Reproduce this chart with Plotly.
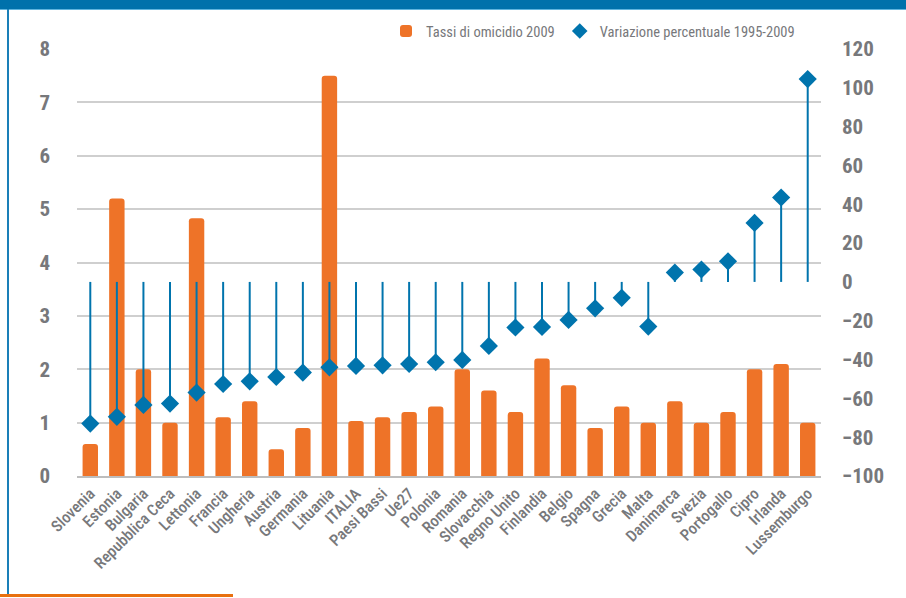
#!/usr/bin/env python3
"""Tassi di omicidio 2009 e variazione percentuale 1995-2009 (Plotly)."""

import plotly.graph_objects as go

paesi = ['Slovenia', 'Estonia', 'Bulgaria', 'Repubblica Ceca', 'Lettonia', 'Francia',
         'Ungheria', 'Austria', 'Germania', 'Lituania', 'ITALIA', 'Paesi Bassi', 'Ue27',
         'Polonia', 'Romania', 'Slovacchia', 'Regno Unito', 'Finlandia', 'Belgio',
         'Spagna', 'Grecia', 'Malta', 'Danimarca', 'Svezia', 'Portogallo', 'Cipro',
         'Irlanda', 'Lussemburgo']

tassi_2009 = [0.6, 5.2, 2.0, 1.0, 4.83, 1.1, 1.4, 0.5, 0.9, 7.5, 1.03, 1.1, 1.2,
              1.3, 2.0, 1.6, 1.2, 2.2, 1.7, 0.9, 1.3, 1.0, 1.4, 1.0, 1.2, 2.0,
              2.1, 1.0]

variazione = [-73, -69.5, -63.4, -62.7, -57, -52.6, -51.2, -49, -46.7, -44, -43.3,
              -43, -42.3, -41.4, -40.2, -33, -23.5, -23.2, -19.6, -13.6, -8.2, -23,
              4.8, 6.4, 10.6, 30.4, 43.5, 104.5]

left_ticks = [0, 1, 2, 3, 4, 5, 6, 7, 8]
right_ticks = [-100, -80, -60, -40, -20, 0, 20, 40, 60, 80, 100, 120]

ORANGE = '#ee7328'
BLUE = '#0074ad'
GREY_TEXT = '#77787b'
FONT = 'Roboto Condensed, Liberation Sans Narrow, DejaVu Sans Condensed, sans-serif'

# plot area in pixels, used to place the frame decorations
W, H = 906, 598
L, R, T, B = 77, 85, 49, 122
pw, ph = W - L - R, H - T - B


def px_x(px):
    return (px - L) / pw


def px_y(py):
    return (H - B - py) / ph


fig = go.Figure()

fig.add_trace(go.Bar(
    x=paesi,
    y=tassi_2009,
    name='Tassi di omicidio 2009',
    marker=dict(color=ORANGE, line=dict(width=0)),
    yaxis='y',
))

# stems from zero to the value, drawn as asymmetric error bars
up = [max(-v, 0) for v in variazione]
down = [max(v, 0) for v in variazione]
fig.add_trace(go.Scatter(
    x=paesi,
    y=variazione,
    mode='markers',
    name='Variazione percentuale 1995-2009',
    marker=dict(symbol='diamond', size=14, color=BLUE),
    error_y=dict(type='data', symmetric=False, array=up, arrayminus=down,
                 width=0, thickness=2, color=BLUE),
    yaxis='y2',
))

shapes = [
    # top blue band
    dict(type='rect', xref='paper', yref='paper', x0=px_x(0), x1=px_x(W),
         y0=px_y(9), y1=px_y(-2), fillcolor='#0071ab', line=dict(width=0), layer='above'),
    dict(type='line', xref='paper', yref='paper', x0=px_x(0), x1=px_x(W),
         y0=px_y(9.5), y1=px_y(9.5), line=dict(color='#5fb4de', width=1)),
    # left blue border
    dict(type='line', xref='paper', yref='paper', x0=px_x(8), x1=px_x(8),
         y0=px_y(9), y1=px_y(597), line=dict(color='#1a7fb8', width=2)),
    # bottom orange rule
    dict(type='line', xref='paper', yref='paper', x0=px_x(0), x1=px_x(233),
         y0=px_y(595.5), y1=px_y(595.5), line=dict(color='#e8700f', width=3)),
]

fig.update_layout(
    width=W,
    height=H,
    margin=dict(l=L, r=R, t=T, b=B, autoexpand=False),
    paper_bgcolor='white',
    plot_bgcolor='white',
    font=dict(family=FONT, color=GREY_TEXT),
    bargap=0.42,
    barcornerradius=3,
    showlegend=True,
    legend=dict(
        orientation='h',
        x=px_x(800), xanchor='right',
        y=px_y(31), yanchor='middle',
        font=dict(size=14.5, color=GREY_TEXT, family=FONT),
        itemsizing='constant',
        bgcolor='rgba(0,0,0,0)',
        tracegroupgap=0,
    ),
    xaxis=dict(
        type='category',
        range=[-0.5, len(paesi) - 0.5],
        tickangle=-45,
        tickfont=dict(size=16, family=FONT, color=GREY_TEXT, weight=500),
        showgrid=False,
        showline=True,
        linecolor='#bdbdbd',
        linewidth=2,
        ticks='',
        automargin=False,
    ),
    yaxis=dict(
        range=[0, 8],
        tickvals=left_ticks,
        tickfont=dict(size=21, family=FONT, color=GREY_TEXT, weight='bold'),
        showgrid=True,
        gridcolor='#cfcfcf',
        gridwidth=1.5,
        zeroline=False,
        ticks='',
        ticklabelstandoff=26,
        automargin=False,
    ),
    yaxis2=dict(
        range=[-100, 120],
        tickvals=right_ticks,
        overlaying='y',
        side='right',
        tickfont=dict(size=21, family=FONT, color=GREY_TEXT, weight='bold'),
        showgrid=False,
        zeroline=False,
        ticks='',
        ticklabelstandoff=20,
        automargin=False,
    ),
    shapes=shapes,
)

# the page body has a default 8px margin; remove it so the figure sits at 0,0
fig.write_html('out.html',
               config={'displayModeBar': False},
               post_script="document.body.style.margin='0';"
                           "document.body.style.overflow='hidden';")
